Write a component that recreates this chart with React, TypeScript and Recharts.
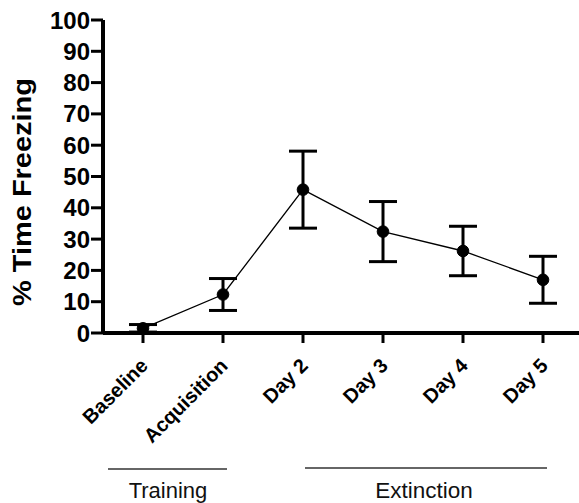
import { LineChart, Line, XAxis, YAxis, ErrorBar } from 'recharts';

const categories = ['Baseline', 'Acquisition', 'Day 2', 'Day 3', 'Day 4', 'Day 5'];
const meanFreezing = [1.5, 12.3, 45.8, 32.4, 26.2, 17.0];
const semFreezing = [1.2, 5.1, 12.3, 9.6, 7.9, 7.5];
const yTicks = [0, 10, 20, 30, 40, 50, 60, 70, 80, 90, 100];

const data = categories.map((name, i) => ({
  idx: i,
  name,
  mean: meanFreezing[i],
  sem: semFreezing[i],
}));

const FONT = 'Arial, "Liberation Sans", sans-serif';

// Rotated category label under each x tick
const CategoryTick = ({ x, y, payload }: { x?: number; y?: number; payload?: { value: number } }) => {
  const label = categories[payload?.value ?? 0];
  return (
    <g transform={`translate(${(x ?? 0) + 6},${(y ?? 0) + 22})`}>
      <text
        x={0}
        y={0}
        textAnchor="end"
        transform="rotate(-45)"
        fontFamily={FONT}
        fontWeight="bold"
        fontSize={20}
        fill="#000"
      >
        {label}
      </text>
    </g>
  );
};

export default function App() {
  return (
    <div style={{ position: 'absolute', left: 0, top: 0, width: 579, height: 503, background: '#fff' }}>
      <LineChart
        width={579}
        height={503}
        data={data}
        margin={{ top: 20, right: 0, left: 0, bottom: 70 }}
      >
        <XAxis
          dataKey="idx"
          type="number"
          domain={[-0.5, 5.45]}
          ticks={[0, 1, 2, 3, 4, 5]}
          allowDataOverflow
          height={100}
          axisLine={{ stroke: '#000', strokeWidth: 4 }}
          tickLine={{ stroke: '#000', strokeWidth: 3 }}
          tickSize={10}
          tick={<CategoryTick />}
          interval={0}
        />
        <YAxis
          domain={[0, 100]}
          ticks={yTicks}
          width={103}
          axisLine={{ stroke: '#000', strokeWidth: 4 }}
          tickLine={{ stroke: '#000', strokeWidth: 3 }}
          tickSize={12}
          tickMargin={1}
          tick={{ fill: '#000', fontSize: 24, fontWeight: 'bold', fontFamily: FONT }}
          interval={0}
        />
        <Line
          type="linear"
          dataKey="mean"
          stroke="#000"
          strokeWidth={1.3}
          dot={{ r: 5.8, fill: '#000', stroke: '#000', strokeWidth: 1 }}
          isAnimationActive={false}
        >
          <ErrorBar dataKey="sem" width={14} strokeWidth={3} stroke="#000" />
        </Line>
      </LineChart>
      <svg
        width={579}
        height={503}
        style={{ position: 'absolute', left: 0, top: 0, pointerEvents: 'none' }}
      >
        <text
          x={31}
          y={192}
          transform="rotate(-90, 31, 192)"
          textAnchor="middle"
          fontFamily={FONT}
          fontWeight="bold"
          fontSize={25}
          textLength={228}
          lengthAdjust="spacingAndGlyphs"
          fill="#000"
        >
          % Time Freezing
        </text>
        <line x1={108} y1={469} x2={227} y2={469} stroke="#333" strokeWidth={1.5} />
        <line x1={305} y1={468} x2={547} y2={468} stroke="#333" strokeWidth={1.5} />
        <text x={168} y={498} textAnchor="middle" fontFamily={FONT} fontSize={22} fill="#111">
          Training
        </text>
        <text x={424} y={498} textAnchor="middle" fontFamily={FONT} fontSize={22.5} fill="#111">
          Extinction
        </text>
      </svg>
    </div>
  );
}
